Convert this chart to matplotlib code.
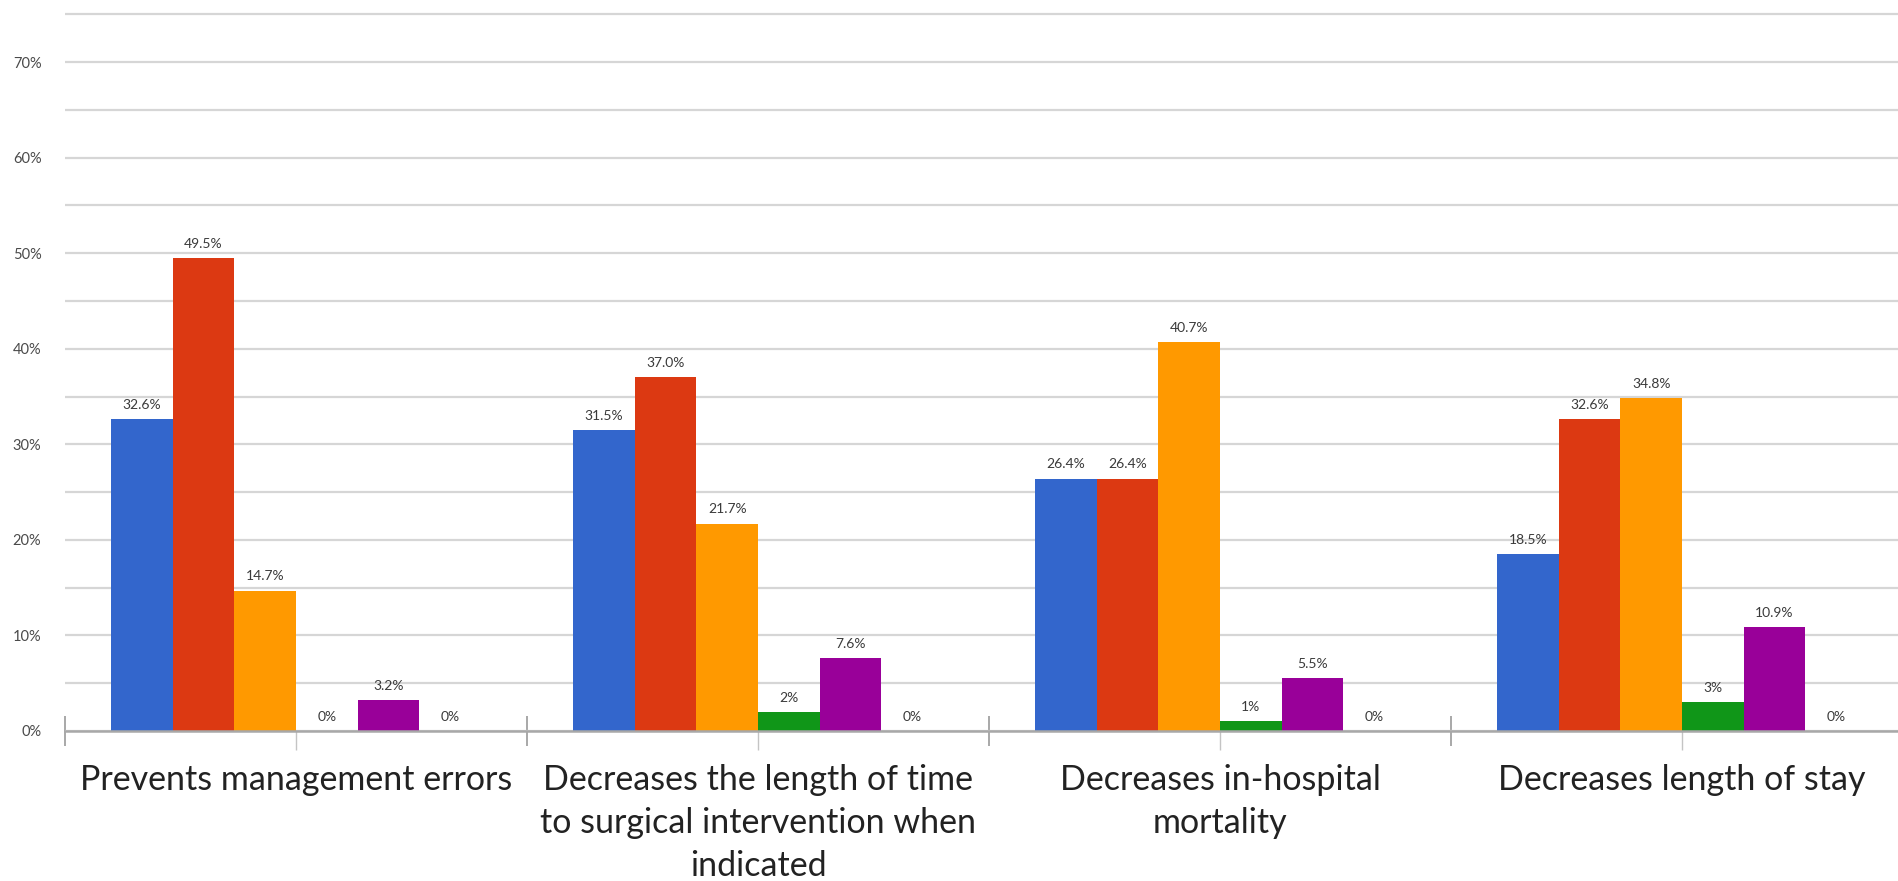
import matplotlib
matplotlib.use("Agg")
import matplotlib.pyplot as plt
from matplotlib.ticker import MultipleLocator, FuncFormatter, FixedLocator
import numpy as np

# Survey answers per benefit, one list per response series (percent, as printed)
categories = [
    "Prevents management errors",
    "Decreases the length of time\nto surgical intervention when\nindicated",
    "Decreases in-hospital\nmortality",
    "Decreases length of stay",
]
series_1 = ["32.6", "31.5", "26.4", "18.5"]
series_2 = ["49.5", "37.0", "26.4", "32.6"]
series_3 = ["14.7", "21.7", "40.7", "34.8"]
series_4 = ["0", "2", "1", "3"]
series_5 = ["3.2", "7.6", "5.5", "10.9"]
series_6 = ["0", "0", "0", "0"]

all_series = [series_1, series_2, series_3, series_4, series_5, series_6]
colors = ["#3366CC", "#DC3912", "#FF9900", "#109618", "#990099", "#0099C6"]

W, H, DPI = 1898, 881, 100
fig = plt.figure(figsize=(W / DPI, H / DPI), dpi=DPI)
ax = fig.add_axes([65 / W, 1 - 731 / H, 1 - 65 / W, 731 / H])

n = len(all_series)
group_w = 0.8
bar_w = group_w / n
x = np.arange(len(categories))

for k, (vals, c) in enumerate(zip(all_series, colors)):
    heights = [float(v) for v in vals]
    xs = x + (k - (n - 1) / 2) * bar_w
    ax.bar(xs, heights, width=bar_w, color=c, edgecolor="none", zorder=3)
    for xi, h, txt in zip(xs, heights, vals):
        ax.annotate(f"{txt}%", (xi, h), xytext=(0, 6), textcoords="offset points",
                    ha="center", va="bottom", fontsize=10, color="#3a3a3a",
                    family="Lato", zorder=4)

ax.set_xlim(-0.5, -0.5 + (W - 65) / 462)
ax.set_ylim(0, 76.5)

# Horizontal grid every 5 %, labels every 10 %
ax.yaxis.set_major_locator(MultipleLocator(10))
ax.yaxis.set_minor_locator(MultipleLocator(5))
ax.yaxis.set_major_formatter(FuncFormatter(lambda v, p: f"{v:.0f}%"))
ax.grid(axis="y", which="both", color="#d6d6d6", linewidth=1.6, zorder=0)
ax.tick_params(axis="y", which="both", length=0, pad=17, labelsize=10.5,
               labelcolor="#4a4a4a")
for lbl in ax.get_yticklabels():
    lbl.set_family("Lato")

# Category axis: boundary ticks crossing the baseline, short ticks at centres
ax.xaxis.set_major_locator(FixedLocator(np.arange(len(categories) + 1) - 0.5))
ax.xaxis.set_minor_locator(FixedLocator(x))
ax.tick_params(axis="x", which="major", direction="inout", length=22, width=1.2,
               color="#9a9a9a", labelbottom=False)
ax.tick_params(axis="x", which="minor", direction="out", length=14, width=1.0,
               color="#c4c4c4", labelbottom=False)

for s in ["top", "right", "left"]:
    ax.spines[s].set_visible(False)
ax.spines["bottom"].set_color("#a8a8a8")
ax.spines["bottom"].set_linewidth(1.8)
ax.spines["bottom"].set_zorder(5)

for xi, cat in zip(x, categories):
    ax.annotate(cat, (xi, 0), xytext=(0, -24), textcoords="offset points",
                ha="center", va="top", fontsize=24.5, color="#222222",
                family="Lato", linespacing=1.42, annotation_clip=False)

fig.savefig("out.png", dpi=DPI, facecolor="white")
